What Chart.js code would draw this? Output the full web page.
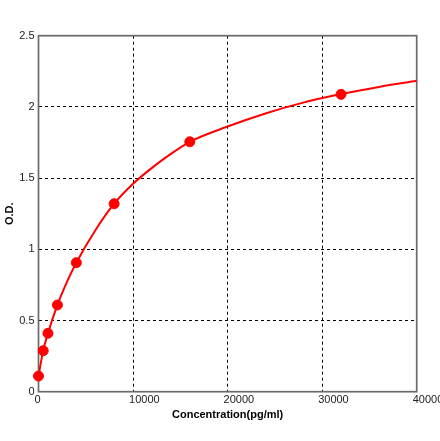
<!DOCTYPE html>
<html>
<head>
<meta charset="utf-8">
<script src="https://cdn.jsdelivr.net/npm/chart.js@4/dist/chart.umd.min.js"></script>
<style>
  html, body { margin: 0; padding: 0; background: #fff; }
  #wrap { width: 440px; height: 441px; }
</style>
</head>
<body>
<div id="wrap"><canvas id="c" width="440" height="441"></canvas></div>
<script>
// Standard points (concentration in pg/ml, O.D.)
const concentration = [0, 500, 1000, 2000, 4000, 8000, 16000, 32000];
const od = [0.11, 0.288, 0.41, 0.609, 0.906, 1.32, 1.755, 2.088];

// Fitted curve
const curveX = [0, 500, 1000, 2000, 3000, 4000, 6000, 8000, 10000, 12000, 14000, 16000, 20000, 24000, 28000, 32000, 36000, 40000];
const curveY = [0.11, 0.29, 0.41, 0.61, 0.77, 0.906, 1.132, 1.32, 1.46, 1.572, 1.67, 1.755, 1.862, 1.954, 2.03, 2.09, 2.14, 2.183];

// Tick labels
const xTicks = [0, 10000, 20000, 30000, 40000];
const yTicks = [0, 0.5, 1, 1.5, 2, 2.5];

const xTitle = 'Concentration(pg/ml)';
const yTitle = 'O.D.';

const frame = {
  id: 'frame',
  beforeDatasetsDraw(chart) {
    const a = chart.chartArea, ctx = chart.ctx;
    ctx.save();
    ctx.strokeStyle = '#6a6a6a';
    ctx.lineWidth = 1.7;
    ctx.strokeRect(a.left, a.top, a.right - a.left, a.bottom - a.top);
    ctx.restore();
  }
};

const gridColor = (ctx) =>
  (ctx.tick && (ctx.index === 0 || ctx.index === ctx.scale.ticks.length - 1)) ? 'rgba(0,0,0,0)' : '#000';

new Chart(document.getElementById('c'), {
  type: 'scatter',
  data: {
    datasets: [
      {
        data: curveX.map((x, i) => ({ x: x, y: curveY[i] })),
        showLine: true,
        borderColor: '#ff0000',
        borderWidth: 2,
        pointRadius: 0,
        cubicInterpolationMode: 'monotone',
        fill: false
      },
      {
        data: concentration.map((x, i) => ({ x: x, y: od[i] })),
        showLine: false,
        pointRadius: 5,
        pointBorderWidth: 1,
        backgroundColor: '#ff0000',
        borderColor: '#ff0000',
        clip: false
      }
    ]
  },
  options: {
    responsive: false,
    devicePixelRatio: 1,
    animation: false,
    layout: { padding: { left: 0, top: 35.7, right: 23.3, bottom: 0 } },
    plugins: { legend: { display: false }, tooltip: { enabled: false } },
    scales: {
      x: {
        type: 'linear',
        min: 0, max: 40000,
        afterBuildTicks: (s) => { s.ticks = xTicks.map(v => ({ value: v })); },
        afterFit: (s) => { s.height = 49.3; s.paddingLeft = 0; s.paddingRight = 0; },
        ticks: {
          align: 'start',
          labelOffset: -4,
          padding: 2,
          color: '#222',
          font: { family: 'Liberation Sans, Arial, sans-serif', size: 11 },
          callback: (v) => String(v),
          maxRotation: 0,
          autoSkip: false
        },
        grid: { color: gridColor, lineWidth: 1, drawTicks: false },
        border: { display: false, dash: [3, 3] },
        title: {
          display: true,
          text: xTitle,
          color: '#000',
          font: { family: 'Liberation Sans, Arial, sans-serif', size: 11, weight: 'bold' },
          padding: { top: 0, bottom: 19 }
        }
      },
      y: {
        type: 'linear',
        min: 0, max: 2.5,
        afterBuildTicks: (s) => { s.ticks = yTicks.map(v => ({ value: v })); },
        afterFit: (s) => { s.width = 38.5; s.paddingTop = 0; s.paddingBottom = 0; },
        ticks: {
          padding: 4,
          color: '#222',
          font: { family: 'Liberation Sans, Arial, sans-serif', size: 11 },
          callback: (v) => String(v),
          autoSkip: false
        },
        grid: { color: gridColor, lineWidth: 1, drawTicks: false },
        border: { display: false, dash: [3, 3] },
        title: {
          display: true,
          text: yTitle,
          color: '#000',
          font: { family: 'Liberation Sans, Arial, sans-serif', size: 11, weight: 'bold' },
          padding: { top: 3.4, bottom: 0 }
        }
      }
    }
  },
  plugins: [frame]
});
</script>
</body>
</html>
